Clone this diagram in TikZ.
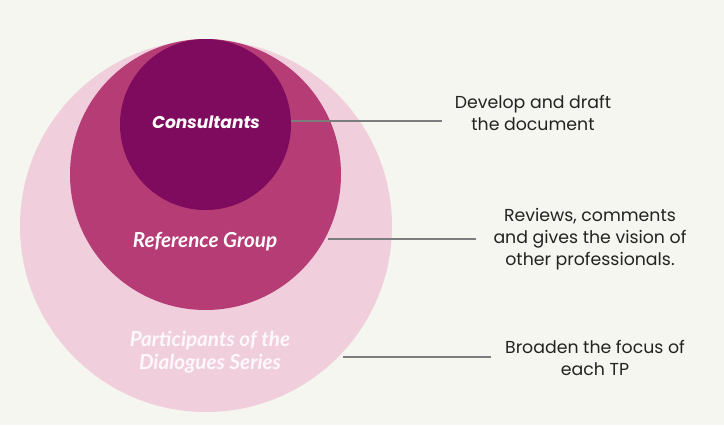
\documentclass[tikz,border=0pt]{standalone}
\usepackage{fontspec}
\setmainfont{Poppins}
\newfontfamily\labelfont{Lato}
\usetikzlibrary{positioning}
\definecolor{paper}{RGB}{245,246,239}
\definecolor{outerpink}{RGB}{240,206,220}
\definecolor{midpink}{RGB}{181,60,116}
\definecolor{plum}{RGB}{126,11,94}
\definecolor{leader}{RGB}{125,125,125}
\definecolor{ink}{RGB}{35,35,35}
\tikzset{
  ringlabel/.style={text=white, align=center, inner sep=0pt},
  note/.style={text=ink, align=center, inner sep=0pt, font=\fontsize{13}{16.5}\selectfont},
  leaderline/.style={draw=leader, line width=0.8pt}
}

\begin{document}
\begin{tikzpicture}[x=0.75pt,y=-0.75pt]
		%%%%% START %%%%%
		
		\fill[paper] (0, 0) rectangle (724, 425);
		\useasboundingbox (0, 0) rectangle (724, 425);
		
		% nested circles
		\fill[outerpink] (206, 226) circle (186);
		\fill[midpink] (205.5, 174.5) circle (135.5);
		\fill[plum] (205.5, 124.5) circle (85.5);
		
		\node[ringlabel, font=\fontsize{12.8}{15}\selectfont\bfseries\itshape] (cons) at (206, 122) {Consultants};
		\node[ringlabel, font=\labelfont\fontsize{15.5}{17}\selectfont\bfseries\itshape] (refg) at (205, 242) {Reference Group};
		\node[ringlabel, text=white!88!outerpink, font=\labelfont\fontsize{15.5}{17.2}\selectfont\bfseries\itshape] (part) at (210, 352) {Participants of the\\Dialogues Series};
		
		% notes on the right
		\node[note] (draft) at (533, 113) {Develop and draft\\the document};
		\node[note] (vision) at (590, 239) {Reviews, comments\\and gives the vision of\\other professionals.};
		\node[note] (focus) at (595, 358) {Broaden the focus of\\each TP};
		
		\coordinate (a1) at (291, 121);
		\coordinate (b1) at (442, 121);
		\coordinate (a2) at (328, 239);
		\coordinate (b2) at (476, 239);
		\coordinate (a3) at (343, 357);
		\coordinate (b3) at (491, 357);
		
		\draw[leaderline] (a1) -- (b1);
		\draw[leaderline] (a2) -- (b2);
		\draw[leaderline] (a3) -- (b3);
		
		%%%%% END %%%%%
	\end{tikzpicture}
\end{document}
